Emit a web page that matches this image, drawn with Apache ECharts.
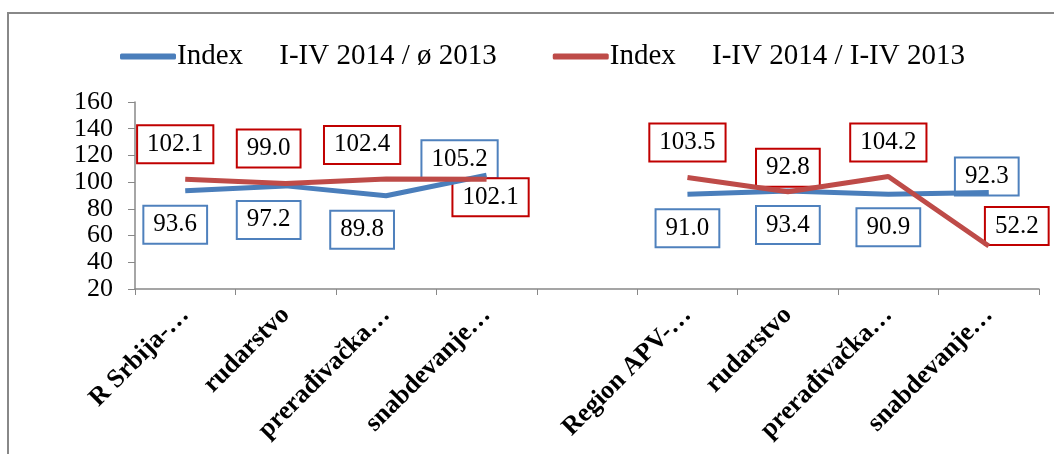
<!DOCTYPE html>
<html>
<head>
<meta charset="utf-8">
<script src="https://cdn.jsdelivr.net/npm/echarts@6/dist/echarts.min.js"></script>
<style>
  html, body { margin: 0; padding: 0; background: #fff; }
  #chart { width: 1054px; height: 454px; }
</style>
</head>
<body>
<div id="chart"></div>
<script>
// categories (empty one is the gap between the two groups)
const categories = ['R Srbija-…', 'rudarstvo', 'prerađivačka…', 'snabdevanje…', '',
  'Region APV-…', 'rudarstvo', 'prerađivačka…', 'snabdevanje…']
const seriesNames = ['Index     I-IV 2014 / ø 2013', 'Index     I-IV 2014 / I-IV 2013']
const indexAvg2013 = [93.6, 97.2, 89.8, 105.2, null, 91.0, 93.4, 90.9, 92.3]
const indexIV2013 = [102.1, 99.0, 102.4, 102.1, null, 103.5, 92.8, 104.2, 52.2]
const yTicks = {min: 20, max: 160, interval: 20}

// label box offsets from each point (layout only)
const blueOffsets = [[-10, 34], [-17, 34], [-24, 34], [-27, -16], [0, 0], [0, 34], [0, 34], [0, 33], [-2, -16]]
const redOffsets = [[-10, -35], [-17, -35], [-24, -34], [4, 18], [0, 0], [0, -35], [0, -24], [0, -34], [28, -20]]

const FONT = 'Liberation Serif'
const BLUE = '#4a7ebb'
const RED = '#be4b48'

function lineSeries (name, values, color) {
  return {
    name: name,
    type: 'line',
    data: values,
    z: 5,
    symbol: 'none',
    connectNulls: false,
    itemStyle: {color: color},
    lineStyle: {color: color, width: 5},
    emphasis: {disabled: true},
    animation: false
  }
}

// same values again, only to carry the boxed labels under the lines
function labelSeries (name, values, offsets, border) {
  return {
    name: name,
    type: 'line',
    z: 1,
    data: values.map((v, i) => ({value: v, label: {offset: offsets[i]}})),
    symbol: 'circle',
    symbolSize: 1,
    itemStyle: {color: 'rgba(0,0,0,0)'},
    lineStyle: {width: 0, color: 'rgba(0,0,0,0)'},
    label: {
      show: true,
      position: 'inside',
      formatter: (p) => p.value.toFixed(1),
      fontFamily: FONT,
      fontSize: 25,
      color: '#000',
      backgroundColor: '#fff',
      borderColor: border,
      borderWidth: 2,
      padding: [6, 9, 5, 9]
    },
    emphasis: {disabled: true},
    silent: true,
    animation: false
  }
}

const chart = echarts.init(document.getElementById('chart'))
chart.setOption({
  backgroundColor: '#fff',
  graphic: [{
    type: 'rect',
    shape: {x: 8, y: 13, width: 1060, height: 470},
    style: {fill: 'none', stroke: '#888', lineWidth: 2}
  }],
  legend: {
    left: 115,
    top: 37,
    itemWidth: 56,
    itemHeight: 6,
    itemGap: 56,
    icon: 'roundRect',
    textStyle: {fontFamily: FONT, fontSize: 29, color: '#000', padding: [0, 0, 0, -4]},
    data: seriesNames
  },
  grid: {left: 135, right: 15, top: 102, bottom: 165},
  xAxis: {
    type: 'category',
    data: categories,
    boundaryGap: true,
    axisLine: {lineStyle: {color: '#888', width: 1.5}},
    axisTick: {show: true, length: 6, lineStyle: {color: '#888'}},
    axisLabel: {
      rotate: 45,
      interval: 0,
      margin: 22,
      fontFamily: FONT,
      fontWeight: 'bold',
      fontSize: 26,
      color: '#000'
    }
  },
  yAxis: {
    type: 'value',
    min: yTicks.min,
    max: yTicks.max,
    interval: yTicks.interval,
    axisLine: {show: true, lineStyle: {color: '#888', width: 1.5}},
    axisTick: {show: true, length: 7, lineStyle: {color: '#888'}},
    splitLine: {show: false},
    axisLabel: {margin: 22, fontFamily: FONT, fontSize: 26, color: '#000'}
  },
  series: [
    lineSeries(seriesNames[0], indexAvg2013, BLUE),
    lineSeries(seriesNames[1], indexIV2013, RED),
    labelSeries(seriesNames[0], indexAvg2013, blueOffsets, '#4f81bd'),
    labelSeries(seriesNames[1], indexIV2013, redOffsets, '#c00000')
  ]
})
</script>
</body>
</html>
